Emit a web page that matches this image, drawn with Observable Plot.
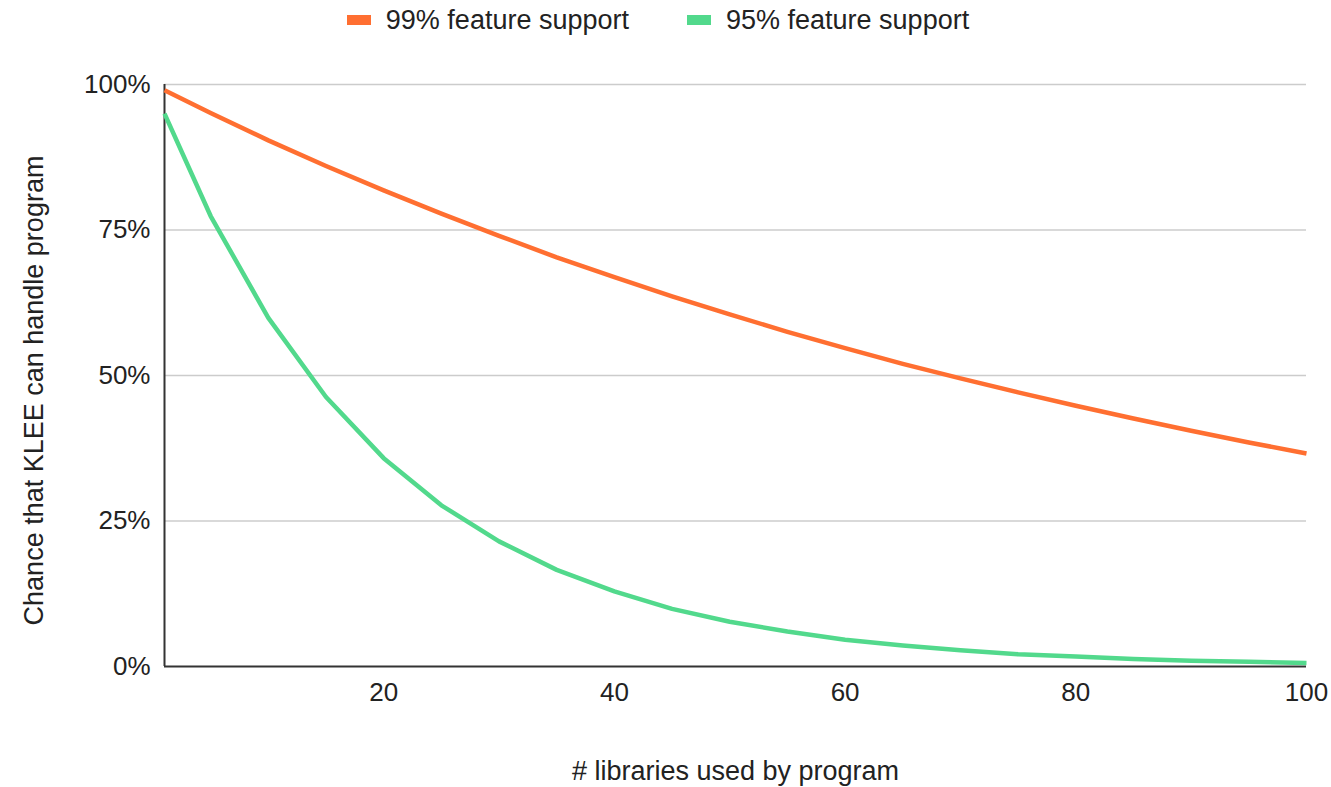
<!DOCTYPE html>
<html>
<head>
<meta charset="utf-8">
<script src="https://cdn.jsdelivr.net/npm/d3@7"></script>
<script src="https://cdn.jsdelivr.net/npm/@observablehq/plot@0.6"></script>
<style>
  html, body { margin: 0; padding: 0; background: #fff; }
  body { width: 1331px; height: 787px; overflow: hidden; font-family: "Liberation Sans", Arial, sans-serif; }
  #legend { height: 40px; display: flex; justify-content: center; align-items: center; font-size: 27px; color: #222; padding-right: 15px; box-sizing: border-box; }
  .item { display: flex; align-items: center; margin: 0 29px; }
  .sw { width: 24px; height: 10px; margin-right: 15px; }
</style>
</head>
<body>
<div id="legend"></div>
<div id="chart"></div>
<script>
const libraries = [1, 5, 10, 15, 20, 25, 30, 35, 40, 45, 50, 55, 60, 65, 70, 75, 80, 85, 90, 95, 100];
const support99 = [0.99, 0.951, 0.904, 0.86, 0.818, 0.778, 0.74, 0.703, 0.669, 0.636, 0.605, 0.575, 0.547, 0.52, 0.495, 0.471, 0.448, 0.426, 0.405, 0.385, 0.366];
const support95 = [0.95, 0.774, 0.599, 0.463, 0.358, 0.277, 0.215, 0.166, 0.129, 0.099, 0.077, 0.06, 0.046, 0.036, 0.028, 0.021, 0.017, 0.013, 0.01, 0.008, 0.006];
const seriesNames = ["99% feature support", "95% feature support"];
const seriesColors = ["#ff6f31", "#52d98c"];
const xTicks = [20, 40, 60, 80, 100];
const yTicks = [0, 0.25, 0.5, 0.75, 1];
const xTitle = "# libraries used by program";
const yTitle = "Chance that KLEE can handle program";

const rows = [];
libraries.forEach((n, i) => {
  rows.push({n, v: support99[i], s: seriesNames[0]});
});
libraries.forEach((n, i) => {
  rows.push({n, v: support95[i], s: seriesNames[1]});
});

const legend = document.getElementById("legend");
seriesNames.forEach((name, i) => {
  const it = document.createElement("div");
  it.className = "item";
  it.innerHTML = `<div class="sw" style="background:${seriesColors[i]}"></div><span>${name}</span>`;
  legend.appendChild(it);
});

const chart = Plot.plot({
  width: 1331,
  height: 747,
  marginTop: 44,
  marginBottom: 121,
  marginLeft: 164,
  marginRight: 25,
  style: {fontFamily: "'Liberation Sans', Arial, sans-serif", fontSize: "26px", color: "#222", background: "#fff", overflow: "visible"},
  x: {domain: [1, 100]},
  y: {domain: [0, 1]},
  color: {domain: seriesNames, range: seriesColors},
  marks: [
    Plot.ruleY(yTicks.filter(d => d > 0), {stroke: "#cccccc", strokeWidth: 1.5}),
    Plot.axisY(yTicks, {tickSize: 0, tickPadding: 14, tickFormat: d3.format(".0%"), label: null, fontSize: 26, fill: "#222"}),
    Plot.axisX(xTicks, {tickSize: 0, tickPadding: 16, label: null, fontSize: 26, fill: "#222"}),
    Plot.ruleX([1], {stroke: "#333", strokeWidth: 2}),
    Plot.ruleY([0], {stroke: "#333", strokeWidth: 2}),
    Plot.line(rows, {x: "n", y: "v", z: "s", stroke: "s", strokeWidth: 4.5, strokeLinejoin: "round", strokeLinecap: "butt"}),
    Plot.text([xTitle], {frameAnchor: "bottom", dy: 105, textAnchor: "middle", lineAnchor: "middle", fontSize: 27, fill: "#222"}),
    Plot.text([yTitle], {frameAnchor: "left", dx: -130, dy: 15, rotate: -90, textAnchor: "middle", lineAnchor: "middle", fontSize: 27, fill: "#222"})
  ]
});
document.getElementById("chart").appendChild(chart);
</script>
</body>
</html>
